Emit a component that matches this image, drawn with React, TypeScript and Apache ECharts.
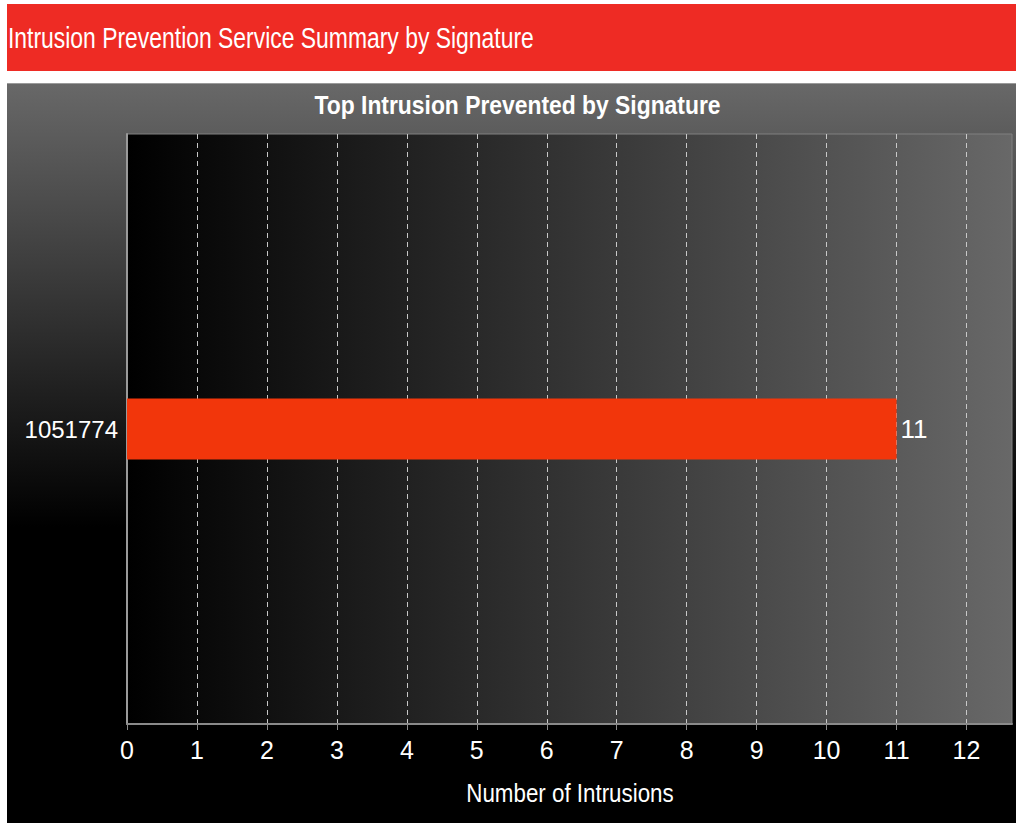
import React, { useEffect, useRef } from "react";
import * as echarts from "echarts";

const pageTitle = "Intrusion Prevention Service Summary by Signature";
const chartTitle = "Top Intrusion Prevented by Signature";
const categories = ["1051774"];
const values = [11];
const xTicks = [0, 1, 2, 3, 4, 5, 6, 7, 8, 9, 10, 11, 12];
const xAxisName = "Number of Intrusions";

const FONT = "'Liberation Sans', Arial, sans-serif";

export default function App() {
  const ref = useRef<HTMLDivElement>(null);
  useEffect(() => {
    document.body.style.margin = "0";
    const chart = echarts.init(ref.current!, null, { renderer: "svg" });
    chart.setOption({
      animation: false,
      backgroundColor: "#ffffff",
      textStyle: { fontFamily: FONT },
      graphic: [
        { type: "rect", z: -10, shape: { x: 7, y: 4, width: 1009, height: 67 }, style: { fill: "#ee2b24" } },
        {
          type: "text", z: -9, x: 8, y: 38.5, scaleX: 0.79,
          style: { text: pageTitle, fill: "#ffffff", font: `29px ${FONT}`, textVerticalAlign: "middle", textAlign: "left" },
        },
        {
          type: "rect", z: -10, shape: { x: 7, y: 83, width: 1009, height: 740 },
          style: {
            fill: new echarts.graphic.LinearGradient(0, 0, 0, 1, [
              { offset: 0, color: "#686868" },
              { offset: 0.6, color: "#000000" },
              { offset: 1, color: "#000000" },
            ]),
          },
        },
        { type: "line", z: -9, shape: { x1: 7, y1: 83.5, x2: 1016, y2: 83.5 }, style: { stroke: "#9a9a9a", lineWidth: 1 } },
        {
          type: "text", z: 10, x: 517.5, y: 104.5, scaleX: 0.88,
          style: { text: chartTitle, fill: "#ffffff", font: `bold 26px ${FONT}`, textVerticalAlign: "middle", textAlign: "center" },
        },
        {
          type: "text", z: 10, x: 570, y: 793, scaleX: 0.86,
          style: { text: xAxisName, fill: "#ffffff", font: `26px ${FONT}`, textVerticalAlign: "middle", textAlign: "center" },
        },
      ],
      grid: {
        left: 127, top: 134, right: 4, bottom: 99,
        show: true,
        borderColor: "#808080", borderWidth: 1,
        backgroundColor: new echarts.graphic.LinearGradient(0, 0, 1, 0, [
          { offset: 0, color: "#000000" },
          { offset: 1, color: "#686868" },
        ]),
      },
      xAxis: {
        type: "value", min: 0, max: 12.65, interval: 1,
        axisLine: { show: true, lineStyle: { color: "#8a8a8a", width: 2 } },
        axisTick: { show: true, length: 6, lineStyle: { color: "#8a8a8a" }, customValues: xTicks },
        axisLabel: { color: "#ffffff", fontSize: 25, margin: 13, fontFamily: FONT, customValues: xTicks },
        splitLine: { show: true, lineStyle: { color: "#c8c8c8", type: [5, 4], width: 1 } },
      },
      yAxis: {
        type: "category", data: categories,
        axisLine: { show: true, lineStyle: { color: "#9a9a9a", width: 2 } },
        axisTick: { show: false },
        axisLabel: { color: "#ffffff", fontSize: 24, margin: 9, fontFamily: FONT },
        splitLine: { show: false },
      },
      series: [
        {
          type: "bar", data: values, barWidth: 61,
          itemStyle: { color: "#f2360b" },
          label: { show: true, position: "right", distance: 4, color: "#ffffff", fontSize: 26, fontFamily: FONT },
        },
      ],
    });
    return () => chart.dispose();
  }, []);
  return <div ref={ref} style={{ position: "absolute", left: 0, top: 0, width: 1016, height: 823 }} />;
}
